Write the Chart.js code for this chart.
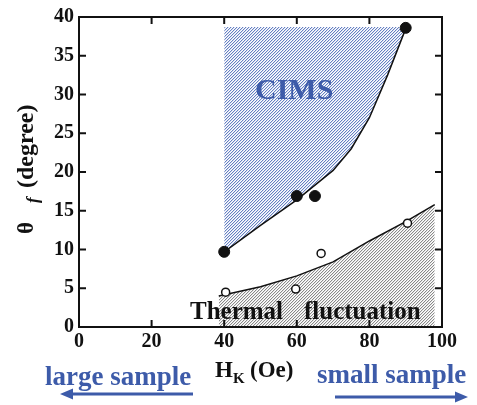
<!DOCTYPE html>
<html><head><meta charset="utf-8">
<script src="https://cdn.jsdelivr.net/npm/chart.js@4/dist/chart.umd.min.js"></script>
<style>html,body{margin:0;padding:0;background:#fff}#wrap{width:477px;height:405px}</style>
</head><body><div id="wrap"><canvas id="c" width="477" height="405"></canvas></div>
<script>
// ---- data ----
const cimsLineX = [40, 50, 60, 70, 75, 80, 85, 90];
const cimsLineY = [9.7, 13.1, 16.4, 20.2, 23.0, 27.0, 32.5, 38.5];
const cimsTop = 38.7;
const cimsPointsX = [40, 60, 65, 90];
const cimsPointsY = [9.7, 16.9, 16.9, 38.6];
const thermalLineX = [38.5, 50, 60, 70, 80, 90, 98];
const thermalLineY = [4.0, 5.2, 6.6, 8.4, 11.1, 13.6, 15.8];
const thermalPointsX = [40.4, 59.7, 66.7, 90.5];
const thermalPointsY = [4.5, 4.9, 9.5, 13.4];
const xTicks = [0, 20, 40, 60, 80, 100];
const yTicks = [0, 5, 10, 15, 20, 25, 30, 35, 40];

const BLUE = '#3d5ba9';
const SERIF = '"Liberation Serif", "Times New Roman", serif';

function pts(xs, ys) { return xs.map((x, i) => ({ x: x, y: ys[i] })); }

function hatch(color, light) {
  const p = document.createElement('canvas');
  p.width = 3; p.height = 3;
  const g = p.getContext('2d');
  g.fillStyle = '#ffffff'; g.fillRect(0, 0, 3, 3);
  for (let i = 0; i < 3; i++) {
    g.fillStyle = color; g.fillRect(i, 2 - i, 1, 1);
    g.fillStyle = light; g.fillRect((i + 1) % 3, 2 - i, 1, 1);
  }
  return g.createPattern(p, 'repeat');
}

const ctx = document.getElementById('c').getContext('2d');

const decor = {
  id: 'decor',
  afterDraw(chart) {
    const c = chart.ctx, a = chart.chartArea;
    const xs = chart.scales.x, ys = chart.scales.y;
    c.save();
    c.strokeStyle = '#111';
    c.lineWidth = 2;
    c.strokeRect(a.left, a.top, a.right - a.left, a.bottom - a.top);
    const tl = 7;
    c.beginPath();
    xTicks.forEach(v => {
      const px = xs.getPixelForValue(v);
      c.moveTo(px, a.bottom); c.lineTo(px, a.bottom - tl);
      c.moveTo(px, a.top); c.lineTo(px, a.top + tl);
    });
    yTicks.forEach(v => {
      const py = ys.getPixelForValue(v);
      c.moveTo(a.left, py); c.lineTo(a.left + tl, py);
      c.moveTo(a.right, py); c.lineTo(a.right - tl, py);
    });
    c.stroke();

    // region labels
    c.fillStyle = BLUE;
    c.textBaseline = 'alphabetic';
    c.textAlign = 'left';
    c.font = 'bold 30px ' + SERIF;
    c.fillText('CIMS', 255, 99);
    c.fillStyle = '#111';
    c.font = 'bold 25px ' + SERIF;
    c.fillText('Thermal', 190, 319);
    c.fillText('fluctuation', 304, 319);

    // x-axis title H_K (Oe)
    c.font = 'bold 23px ' + SERIF;
    c.fillText('H', 215, 377);
    c.font = 'bold 15px ' + SERIF;
    c.fillText('K', 233, 383);
    c.font = 'bold 23px ' + SERIF;
    c.fillText('(Oe)', 250, 377);

    // y-axis title θ_f (degree)
    c.save();
    c.translate(33, 234);
    c.rotate(-Math.PI / 2);
    c.font = 'bold 23px ' + SERIF;
    c.fillText('θ', 0, 0);
    c.font = 'italic bold 17px ' + SERIF;
    c.fillText('f', 31, 5);
    c.font = 'bold 24px ' + SERIF;
    c.fillText('(degree)', 46, 0);
    c.restore();

    // sample size annotations
    c.fillStyle = BLUE;
    c.font = 'bold 27px ' + SERIF;
    c.fillText('large sample', 45, 385);
    c.fillText('small sample', 317, 383);
    c.strokeStyle = BLUE;
    c.lineWidth = 3;
    c.beginPath();
    c.moveTo(193, 394); c.lineTo(70, 394);
    c.moveTo(335, 397); c.lineTo(458, 397);
    c.stroke();
    c.beginPath();
    c.moveTo(60, 394); c.lineTo(73, 388.5); c.lineTo(73, 399.5); c.closePath();
    c.moveTo(468, 397); c.lineTo(455, 391.5); c.lineTo(455, 402.5); c.closePath();
    c.fill();
    c.restore();
  }
};

new Chart(ctx, {
  type: 'scatter',
  data: {
    datasets: [
      {
        data: pts(cimsLineX, cimsLineY), showLine: true, tension: 0, order: 2,
        borderColor: '#111', borderWidth: 1.5, pointRadius: 0,
        fill: { value: cimsTop }, backgroundColor: hatch('#6580c2', '#d6ddf0')
      },
      {
        data: pts(thermalLineX, thermalLineY), showLine: true, tension: 0, order: 2,
        borderColor: '#111', borderWidth: 1.5, pointRadius: 0,
        fill: 'origin', backgroundColor: hatch('#8a8a8a', '#e2e2e2')
      },
      {
        data: pts(cimsPointsX, cimsPointsY), showLine: false, order: 1,
        pointRadius: 5.5, pointBackgroundColor: '#111', pointBorderColor: '#111', pointBorderWidth: 1
      },
      {
        data: pts(thermalPointsX, thermalPointsY), showLine: false, order: 1,
        pointRadius: 4, pointBackgroundColor: '#fff', pointBorderColor: '#111', pointBorderWidth: 1.5
      }
    ]
  },
  options: {
    responsive: false, animation: false,
    layout: { padding: { left: 0, right: 35, top: 14, bottom: 0 } },
    plugins: { legend: { display: false }, tooltip: { enabled: false } },
    scales: {
      x: {
        type: 'linear', min: 0, max: 100,
        afterBuildTicks: s => { s.ticks = xTicks.map(v => ({ value: v })); },
        ticks: { font: { family: SERIF, size: 20, weight: 'bold' }, color: '#111', padding: 3, maxRotation: 0 },
        grid: { display: false, drawTicks: false }, border: { display: false },
        afterFit: s => { s.height = 78; }
      },
      y: {
        type: 'linear', min: 0, max: 40,
        afterBuildTicks: s => { s.ticks = yTicks.map(v => ({ value: v })); },
        ticks: { font: { family: SERIF, size: 20, weight: 'bold' }, color: '#111', padding: 5 },
        grid: { display: false, drawTicks: false }, border: { display: false },
        afterFit: s => { s.width = 79; }
      }
    }
  },
  plugins: [decor]
});
</script>
</body></html>
